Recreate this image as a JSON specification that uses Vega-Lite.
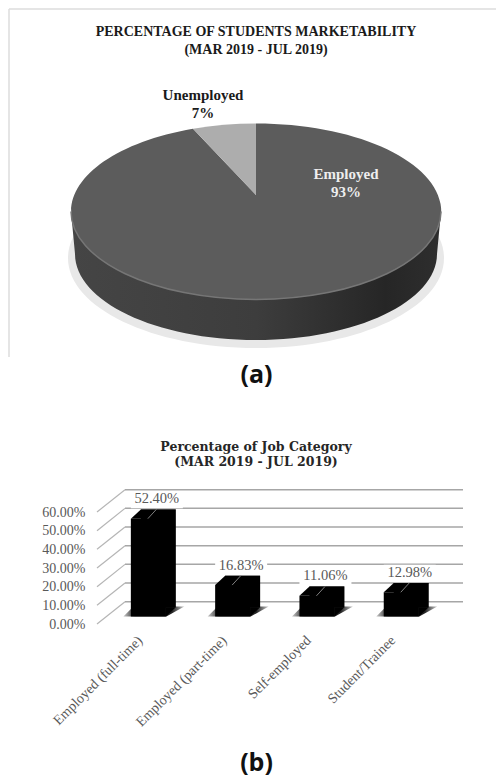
{
"$schema":"https://vega.github.io/schema/vega-lite/v6.json",
"padding":0,"spacing":0,"bounds":"flush","background":"white",
"autosize":{"type":"pad"},
"config":{"view":{"stroke":null},"text":{"font":"Liberation Serif"}},
"datasets":{
 "status":[{"status":"Employed","share":93,"label":"Employed\n93%"},{"status":"Unemployed","share":7,"label":"Unemployed\n7%"}],
 "jobs":[{"category":"Employed (full-time)","pct":0.524},{"category":"Employed (part-time)","pct":0.1683},{"category":"Self-employed","pct":0.1106},{"category":"Student/Trainee","pct":0.1298}],
 "ticks":[{"tick":0},{"tick":0.1},{"tick":0.2},{"tick":0.3},{"tick":0.4},{"tick":0.5},{"tick":0.6}]
},
"vconcat":[
{"width":496,"height":511.5,
 "title":{"text":["PERCENTAGE OF STUDENTS MARKETABILITY","(MAR 2019 - JUL 2019)"],"font":"Liberation Serif","fontWeight":"bold","fontSize":14,"lineHeight":18,"color":"#1a1a1a","anchor":"middle","dx":8,"offset":-57},
 "layer":[
  {"data":{"values":[{"frame":"top"}]},"mark":{"type":"rule","color":"#dcdcdc","strokeWidth":1.5},"encoding":{"x":{"value":9},"x2":{"value":496},"y":{"value":9}}},
  {"data":{"values":[{"frame":"left"}]},"mark":{"type":"rule","color":"#dcdcdc","strokeWidth":1.5},"encoding":{"x":{"value":9},"y":{"value":9},"y2":{"value":357}}},
  {"data":{"name":"status"},"transform":[{"filter":"datum.status==='Employed'"}],
   "mark":{"type":"point","filled":true,"opacity":1,"size":4,"fill":"#e8e8e8","stroke":null,"shape":"M-188,63 A188,90 0 1 0 188,63 A188,90 0 1 0 -188,63 Z"},
   "encoding":{"x":{"value":256},"y":{"value":195}}},
  {"data":{"name":"status"},"transform":[{"filter":"datum.status==='Employed'"}],
   "mark":{"type":"point","filled":true,"opacity":1,"size":4,"stroke":null,
     "fill":{"gradient":"linear","x1":0,"y1":0,"x2":1,"y2":0,"stops":[{"offset":0,"color":"#454545"},{"offset":0.5,"color":"#3d3d3d"},{"offset":0.85,"color":"#262626"},{"offset":1,"color":"#2e2e2e"}]},
     "shape":"M-185,16.5 L-181,59 A181,86 0 0 0 181,59 L185,16.5 A185,50 0 0 1 -185,16.5 Z"},
   "encoding":{"x":{"value":256},"y":{"value":195}}},
  {"data":{"name":"status"},
   "mark":{"type":"point","filled":true,"opacity":1,"size":4,"stroke":null},
   "encoding":{"x":{"value":256},"y":{"value":195},
     "shape":{"field":"status","type":"nominal","legend":null,"scale":{"domain":["Employed","Unemployed"],"range":["M0,0 L0,-71.5 A185,88 0 1 1 -63,-66.2 Z","M0,0 L-63,-66.2 A185,88 0 0 1 0,-71.5 Z"]}},
     "fill":{"field":"status","type":"nominal","legend":null,"scale":{"domain":["Employed","Unemployed"],"range":["#5c5c5c","#adadad"]}}}},
  {"data":{"name":"status"},"transform":[{"filter":"datum.status==='Employed'"}],
   "mark":{"type":"point","filled":false,"opacity":1,"size":4,"stroke":"#767676","strokeWidth":1.5,"shape":"M-185,16.5 A185,88 0 0 0 185,16.5"},
   "encoding":{"x":{"value":256},"y":{"value":195}}},
  {"data":{"name":"status"},
   "mark":{"type":"text","lineBreak":"\n","fontWeight":"bold","fontSize":15,"lineHeight":18,"align":"center","baseline":"middle","font":"Liberation Serif"},
   "encoding":{"text":{"field":"label"},
     "x":{"field":"status","type":"nominal","axis":null,"scale":{"type":"point","padding":0,"domain":["Employed","Unemployed"],"range":[346,203]}},
     "y":{"field":"status","type":"nominal","axis":null,"scale":{"type":"point","padding":0,"domain":["Employed","Unemployed"],"range":[174,95]}},
     "color":{"field":"status","type":"nominal","legend":null,"scale":{"domain":["Employed","Unemployed"],"range":["#eeeeee","#1a1a1a"]}}}},
  {"data":{"values":[{"caption":"(a)"}]},"mark":{"type":"text","font":"Open Sans","fontWeight":"bold","fontSize":25,"color":"#111111","align":"center","baseline":"middle"},"encoding":{"text":{"field":"caption"},"x":{"value":256.5},"y":{"value":375}}}
 ],
 "resolve":{"scale":{"x":"independent","y":"independent","color":"independent","shape":"independent","fill":"independent"}}
},
{"width":496,"height":112,
 "title":{"text":["Percentage of Job Category","(MAR 2019 - JUL 2019)"],"font":"DejaVu Serif","fontWeight":"bold","fontSize":12.5,"lineHeight":15,"color":"#262626","anchor":"middle","dx":8,"offset":19},
 "encoding":{
  "x":{"field":"category","type":"nominal","sort":null,"title":null,
    "scale":{"range":[106.2,443.4],"paddingInner":0,"paddingOuter":0},
    "axis":{"domain":false,"ticks":false,"labelAngle":-45,"labelAlign":"right","labelBaseline":"middle","labelPadding":14,"labelOffset":-8,"labelFont":"Liberation Serif","labelFontSize":14,"labelColor":"#595959","labelLimit":200}},
  "y":{"field":"pct","type":"quantitative","stack":null,"title":null,
    "scale":{"domain":[0,0.6],"nice":false},
    "axis":{"values":[0,0.1,0.2,0.3,0.4,0.5,0.6],"format":".2%","domain":false,"ticks":false,"grid":false,"offset":-97,"labelPadding":12,"labelFont":"Liberation Serif","labelFontSize":14,"labelColor":"#595959"}}
 },
 "layer":[
  {"data":{"name":"ticks"},"mark":{"type":"rule","color":"#a6a6a6","strokeWidth":1.5,"yOffset":-22.3},
   "encoding":{"x":{"value":125},"x2":{"value":463},"y":{"field":"tick","type":"quantitative"}}},
  {"data":{"name":"ticks"},"mark":{"type":"point","filled":false,"opacity":1,"size":4,"stroke":"#b5b5b5","strokeWidth":1.2,"shape":"M0,0 L28,-22.3"},
   "encoding":{"x":{"value":97},"y":{"field":"tick","type":"quantitative"}}},
  {"data":{"name":"jobs"},"mark":{"type":"point","filled":true,"opacity":1,"size":4,"stroke":null,"fill":"white","shape":"M-17.5,-35 h52 v17 h-52 Z"},
   "encoding":{"y":{"field":"pct","type":"quantitative"}}},
  {"data":{"name":"jobs"},"mark":{"type":"point","filled":true,"opacity":1,"size":4,"stroke":null,
     "fill":{"gradient":"linear","x1":0,"y1":0,"x2":1,"y2":0,"stops":[{"offset":0,"color":"#cccccc"},{"offset":0.2,"color":"#222222"},{"offset":0.8,"color":"#222222"},{"offset":1,"color":"#cccccc"}]},
     "shape":"M-25,-7.5 L18,-7.5 L36,-17.5 L-15,-17.5 Z"},
   "encoding":{"y":{"datum":0}}},
  {"data":{"name":"jobs"},"mark":{"type":"bar","color":"black","size":35,"xOffset":10,"yOffset":-16.8,"y2Offset":-16.8},
   "encoding":{"y2":{"datum":0}}},
  {"data":{"name":"jobs"},"mark":{"type":"bar","color":"black","size":35,"yOffset":-7.5,"y2Offset":-7.5},
   "encoding":{"y2":{"datum":0}}},
  {"data":{"name":"jobs"},"mark":{"type":"point","filled":true,"opacity":1,"size":4,"stroke":null,"fill":"black","shape":"M-17.5,-7.5 L-7.5,-16.8 L27.5,-16.8 L17.5,-7.5 Z"},
   "encoding":{"y":{"field":"pct","type":"quantitative"}}},
  {"data":{"name":"jobs"},"mark":{"type":"point","filled":true,"opacity":1,"size":4,"stroke":null,"fill":"black","shape":"M17.5,-7.5 L27.5,-16.8 L17.5,-16.8 Z"},
   "encoding":{"y":{"datum":0}}},
  {"data":{"name":"jobs"},"mark":{"type":"point","filled":false,"opacity":1,"size":4,"stroke":"#7f7f7f","strokeWidth":1,"shape":"M-0.5,-7.5 L8,-16.8"},
   "encoding":{"y":{"field":"pct","type":"quantitative"}}},
  {"data":{"name":"jobs"},"mark":{"type":"text","font":"Liberation Serif","fontSize":14.5,"color":"#595959","dx":8.5,"dy":-27,"align":"center","baseline":"middle"},
   "encoding":{"y":{"field":"pct","type":"quantitative"},"text":{"field":"pct","type":"quantitative","format":".2%"}}},
  {"data":{"values":[{"caption":"(b)"}]},"mark":{"type":"text","font":"Open Sans","fontWeight":"bold","fontSize":25,"color":"#111111","align":"center","baseline":"middle"},"encoding":{"text":{"field":"caption"},"x":{"value":256.5},"y":{"value":250.5}}}
 ]
}
]
}
